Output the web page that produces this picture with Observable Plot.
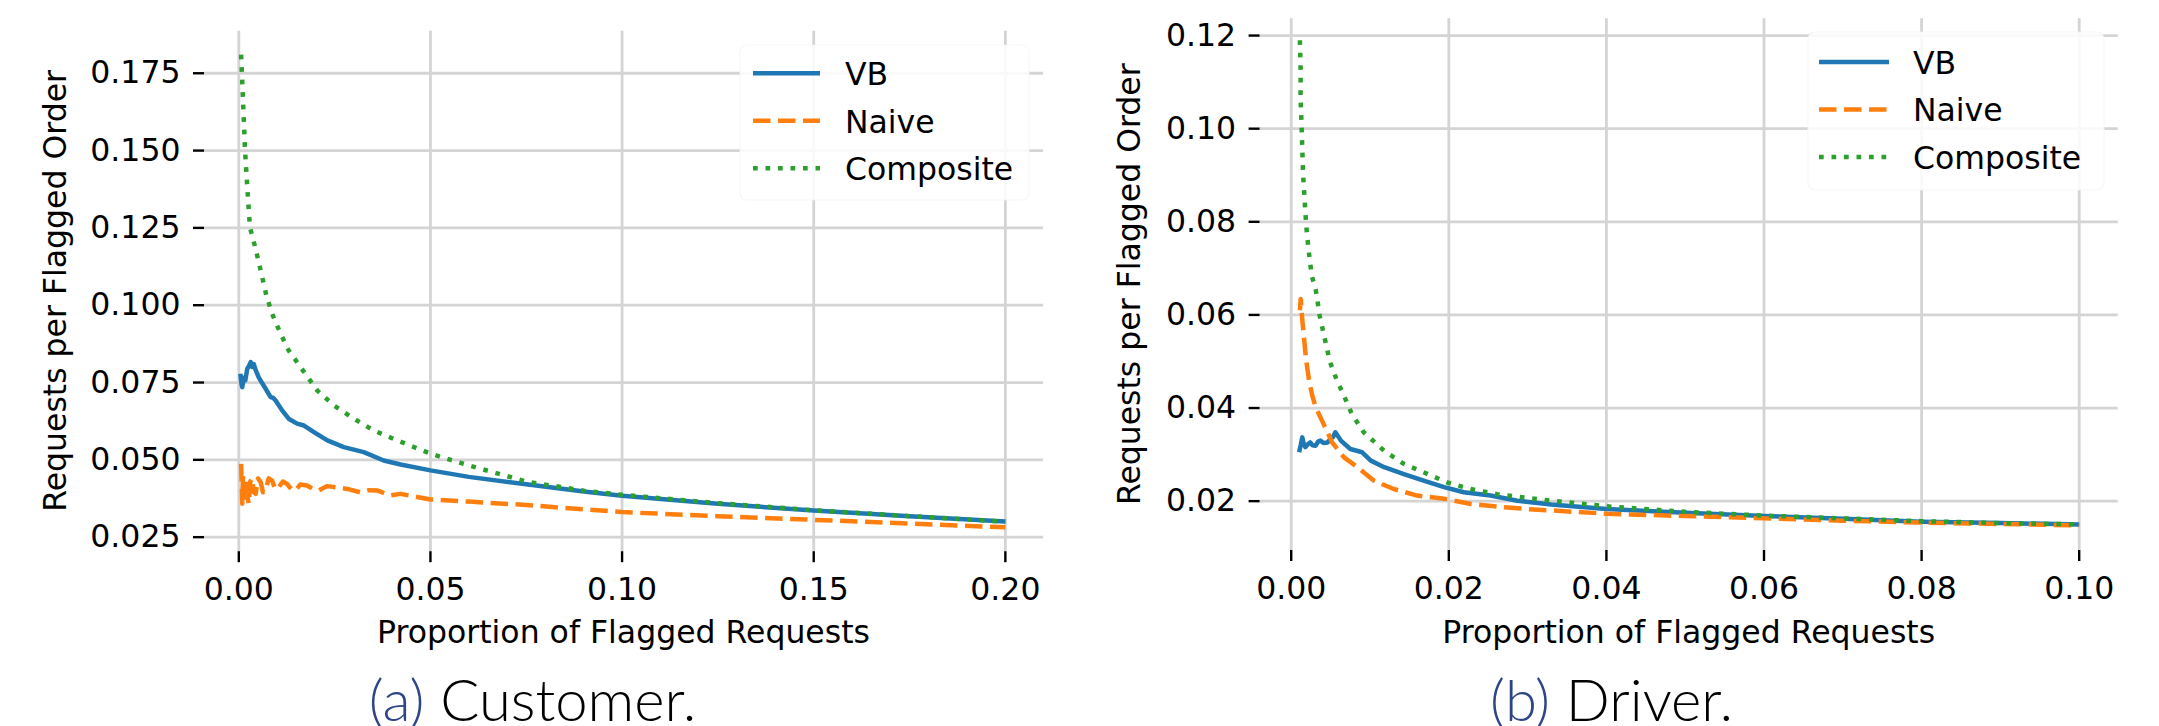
<!DOCTYPE html>
<html>
<head>
<meta charset="utf-8">
<script src="https://cdn.jsdelivr.net/npm/d3@7"></script>
<script src="https://cdn.jsdelivr.net/npm/@observablehq/plot@0.6"></script>
<style>
  html, body { margin: 0; padding: 0; background: #fff; }
  #wrap { position: relative; width: 2159px; height: 726px; overflow: hidden; background: #fff; font-family: "DejaVu Sans", sans-serif; }
  #wrap > * { position: absolute; top: 0; }
</style>
</head>
<body>
<div id="wrap"></div>
<script>
// ---------- data ----------
const seriesNames = ["VB", "Naive", "Composite"];
const seriesColors = ["#1f77b4", "#ff7f0e", "#2ca02c"];

// (a) Customer: [proportion of flagged requests, requests per flagged order]
const customerVB = [[0.0004,0.0778],[0.0007,0.0745],[0.0009,0.0735],[0.0013,0.0765],[0.0017,0.0757],[0.0022,0.0794],[0.0027,0.0805],[0.0031,0.0816],[0.0035,0.0800],[0.0039,0.0810],[0.0044,0.0790],[0.0052,0.0767],[0.0060,0.0750],[0.0070,0.0730],[0.0083,0.0703],[0.0090,0.0700],[0.0096,0.0692],[0.0113,0.0660],[0.0130,0.0633],[0.0152,0.0617],[0.0170,0.0611],[0.0196,0.0590],[0.0231,0.0563],[0.0274,0.0541],[0.0326,0.0525],[0.0378,0.0498],[0.0422,0.0485],[0.050,0.0466],[0.060,0.0445],[0.075,0.0421],[0.090,0.0398],[0.100,0.0384],[0.125,0.0358],[0.150,0.0336],[0.175,0.0318],[0.200,0.0301]];
const customerNaive = [[0.0006,0.0487],[0.0008,0.0400],[0.0009,0.0358],[0.0011,0.0450],[0.0013,0.0380],[0.0015,0.0420],[0.0018,0.0360],[0.0021,0.0435],[0.0024,0.0370],[0.0026,0.0358],[0.0030,0.0430],[0.0035,0.0440],[0.0039,0.0395],[0.0044,0.0390],[0.0050,0.0440],[0.0057,0.0428],[0.0063,0.0395],[0.0070,0.0401],[0.0078,0.0440],[0.0087,0.0433],[0.0095,0.0405],[0.0104,0.0412],[0.0115,0.0430],[0.0126,0.0422],[0.0137,0.0405],[0.0148,0.0401],[0.0160,0.0420],[0.0178,0.0417],[0.0195,0.0405],[0.0209,0.0401],[0.0230,0.0415],[0.0248,0.0412],[0.0283,0.0406],[0.0317,0.0395],[0.0340,0.0402],[0.0361,0.0401],[0.0396,0.0385],[0.0422,0.0390],[0.050,0.0372],[0.060,0.0365],[0.075,0.0354],[0.090,0.0340],[0.100,0.0331],[0.125,0.0318],[0.150,0.0306],[0.175,0.0294],[0.200,0.0282]];
const customerComposite = [[0.0006,0.1810],[0.0009,0.1721],[0.0012,0.1630],[0.0015,0.1541],[0.0016,0.1506],[0.0020,0.1425],[0.0024,0.1344],[0.0029,0.1252],[0.0044,0.1182],[0.0050,0.1150],[0.0061,0.1091],[0.0072,0.1031],[0.0087,0.0972],[0.0109,0.0908],[0.0130,0.0854],[0.0161,0.0800],[0.0205,0.0724],[0.0248,0.0676],[0.0300,0.0633],[0.0352,0.0595],[0.0413,0.0563],[0.050,0.0520],[0.060,0.0482],[0.075,0.0430],[0.090,0.0400],[0.100,0.0387],[0.125,0.0360],[0.150,0.0337],[0.175,0.0318],[0.200,0.0300]];

// (b) Driver
const driverVB = [[0.0010,0.0305],[0.0012,0.0320],[0.0014,0.0337],[0.0016,0.0322],[0.0018,0.0316],[0.0021,0.0322],[0.0024,0.0326],[0.0027,0.0320],[0.0031,0.0319],[0.0034,0.0328],[0.0037,0.0330],[0.0041,0.0325],[0.0046,0.0326],[0.0050,0.0334],[0.0053,0.0338],[0.0056,0.0348],[0.0060,0.0338],[0.0063,0.0330],[0.0075,0.0312],[0.0090,0.0305],[0.0101,0.0287],[0.0118,0.0273],[0.0143,0.0258],[0.0168,0.0244],[0.0194,0.0230],[0.0219,0.0219],[0.0253,0.0212],[0.0287,0.0201],[0.0330,0.0193],[0.040,0.0183],[0.050,0.0175],[0.060,0.0168],[0.070,0.0162],[0.080,0.0156],[0.090,0.0153],[0.100,0.0150]];
const driverNaive = [[0.0011,0.0610],[0.0012,0.0634],[0.0013,0.0615],[0.0014,0.0590],[0.0016,0.0555],[0.0018,0.0519],[0.0020,0.0490],[0.0023,0.0455],[0.0027,0.0425],[0.0031,0.0402],[0.0041,0.0366],[0.0052,0.0326],[0.0067,0.0294],[0.0084,0.0273],[0.0105,0.0244],[0.0130,0.0226],[0.0160,0.0212],[0.0194,0.0205],[0.0228,0.0194],[0.0270,0.0187],[0.0300,0.0183],[0.040,0.0173],[0.050,0.0168],[0.060,0.0163],[0.070,0.0158],[0.080,0.0154],[0.090,0.0151],[0.100,0.0148]];
const driverComposite = [[0.0011,0.1190],[0.0012,0.1125],[0.00118,0.1069],[0.0013,0.1013],[0.0014,0.0958],[0.0015,0.0903],[0.0017,0.0847],[0.0019,0.0792],[0.0022,0.0740],[0.0026,0.0684],[0.0031,0.0655],[0.0033,0.0634],[0.0036,0.0599],[0.0049,0.0500],[0.0058,0.0459],[0.0065,0.0434],[0.0077,0.0387],[0.0092,0.0348],[0.0118,0.0308],[0.0143,0.0280],[0.0168,0.0262],[0.0198,0.0240],[0.0228,0.0226],[0.0261,0.0215],[0.0295,0.0208],[0.0330,0.0201],[0.040,0.0189],[0.050,0.0177],[0.060,0.0169],[0.070,0.0163],[0.080,0.0157],[0.090,0.0153],[0.100,0.0150]];

const customerXTicks = [0, 0.05, 0.10, 0.15, 0.20];
const customerYTicks = [0.025, 0.050, 0.075, 0.100, 0.125, 0.150, 0.175];
const driverXTicks = [0, 0.02, 0.04, 0.06, 0.08, 0.10];
const driverYTicks = [0.02, 0.04, 0.06, 0.08, 0.10, 0.12];

const xLabel = "Proportion of Flagged Requests";
const yLabel = "Requests per Flagged Order";
const captions = [["(a)", " Customer."], ["(b)", " Driver."]];

// ---------- drawing ----------
const dashes = [null, "17.5,7.5", "4.7,7.8"];
const FONT = 31.5;

function toRows(series) {
  return series.flatMap((pts, i) => pts.map(([x, y]) => ({x, y, s: seriesNames[i]})));
}

function panel(cfg) {
  const rows = toRows(cfg.series);
  return Plot.plot({
    width: cfg.width, height: 726,
    marginLeft: cfg.ml, marginRight: cfg.mr, marginTop: cfg.mt, marginBottom: cfg.mb,
    style: {fontFamily: "DejaVu Sans", color: "black", background: "transparent", overflow: "visible"},
    x: {domain: cfg.xDomain},
    y: {domain: cfg.yDomain},
    marks: [
      Plot.gridX(cfg.xTicks, {stroke: "#d4d4d4", strokeOpacity: 1, strokeWidth: 2.8}),
      Plot.gridY(cfg.yTicks, {stroke: "#d4d4d4", strokeOpacity: 1, strokeWidth: 2.8}),
      Plot.axisX({ticks: cfg.xTicks, tickFormat: d => d.toFixed(2), tickSize: 11, tickPadding: 15,
        fontSize: FONT, label: null, strokeWidth: 2.4}),
      Plot.axisY({ticks: cfg.yTicks, tickFormat: d => d.toFixed(cfg.yDigits), tickSize: 11, tickPadding: 13,
        fontSize: FONT, label: null, strokeWidth: 2.4}),
      ...seriesNames.map((name, i) =>
        Plot.line(rows.filter(r => r.s === name), {
          x: "x", y: "y", stroke: seriesColors[i], strokeWidth: 4.5,
          strokeDasharray: dashes[i], strokeLinecap: "butt", strokeLinejoin: "round"
        }))
    ]
  });
}

const wrap = document.getElementById("wrap");

const left = panel({
  width: 1080, ml: 204, mr: 37, mt: 30.7, mb: 174.8,
  xDomain: [-0.00895, 0.20995], yDomain: [0.0203, 0.1886],
  xTicks: customerXTicks, yTicks: customerYTicks, yDigits: 3,
  series: [customerVB, customerNaive, customerComposite]
});
left.style.left = "0px";
wrap.appendChild(left);

const right = panel({
  width: 1079, ml: 179.6, mr: 41.3, mt: 18.3, mb: 176,
  xDomain: [-0.00395, 0.10495], yDomain: [0.0094, 0.1236],
  xTicks: driverXTicks, yTicks: driverYTicks, yDigits: 2,
  series: [driverVB, driverNaive, driverComposite]
});
right.style.left = "1080px";
wrap.appendChild(right);

// ---------- overlay: labels, legends, captions ----------
const ns = "http://www.w3.org/2000/svg";
const ov = document.createElementNS(ns, "svg");
ov.setAttribute("width", 2159); ov.setAttribute("height", 726);
ov.style.left = "0px";
wrap.appendChild(ov);

function el(tag, attrs, parent = ov) {
  const e = document.createElementNS(ns, tag);
  for (const k in attrs) e.setAttribute(k, attrs[k]);
  parent.appendChild(e);
  return e;
}

const panels = [
  {xlab: [623.5, 643], ylab: [65.5, 290.9], cap: [532.5, 721],
   legend: {box: [740, 45, 289, 155], hx: 753, hw: 67, hy: 73.3, tx: 845}},
  {xlab: [1688.7, 643], ylab: [1140, 284.2], cap: [1611.5, 721],
   legend: {box: [1808, 32, 296, 158], hx: 1819, hw: 70, hy: 62, tx: 1913}}
];

panels.forEach((p, k) => {
  el("text", {x: p.xlab[0], y: p.xlab[1], "text-anchor": "middle", "font-family": "DejaVu Sans", "font-size": FONT, fill: "#000"}).textContent = xLabel;
  el("text", {transform: `translate(${p.ylab[0]},${p.ylab[1]}) rotate(-90)`, "text-anchor": "middle", "font-family": "DejaVu Sans", "font-size": FONT, fill: "#000"}).textContent = yLabel;
  const L = p.legend;
  el("rect", {x: L.box[0], y: L.box[1], width: L.box[2], height: L.box[3], rx: 7, fill: "#fff", "fill-opacity": 0.85, stroke: "#f4f4f4", "stroke-opacity": 0.8, "stroke-width": 1.2});
  seriesNames.forEach((name, i) => {
    const y = L.hy + i * 47.5;
    const ln = el("line", {x1: L.hx, x2: L.hx + L.hw, y1: y, y2: y, stroke: seriesColors[i], "stroke-width": 4.5, "stroke-linecap": "butt"});
    if (dashes[i]) ln.setAttribute("stroke-dasharray", dashes[i]);
    el("text", {x: L.tx, y: y + 11.7, "font-family": "DejaVu Sans", "font-size": FONT, fill: "#000"}).textContent = name;
  });
  const t = el("text", {x: p.cap[0], y: p.cap[1], "text-anchor": "middle", "font-family": "Lato", "font-weight": 300, "font-size": 58, fill: "#000"});
  const a = el("tspan", {fill: "#2e4587"}, t); a.textContent = captions[k][0];
  const b = el("tspan", {}, t); b.textContent = captions[k][1];
});
</script>
</body>
</html>
